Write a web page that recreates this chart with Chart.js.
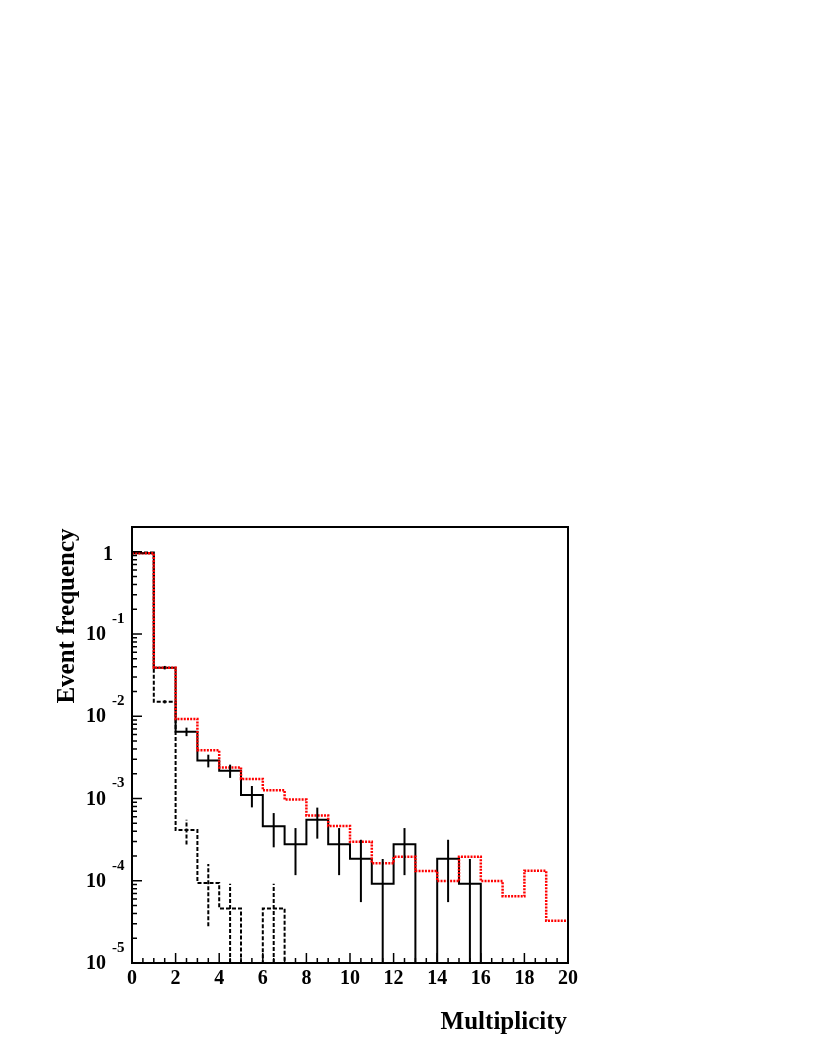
<!DOCTYPE html>
<html><head><meta charset="utf-8">
<script src="https://cdn.jsdelivr.net/npm/chart.js@4/dist/chart.umd.min.js"></script>
<style>html,body{margin:0;padding:0;background:#fff;}#c{position:absolute;left:0;top:0;}</style>
</head><body>
<canvas id="c" width="817" height="1058"></canvas>
<script>
// ---- data ----
const binEdges = [0,1,2,3,4,5,6,7,8,9,10,11,12,13,14,15,16,17,18,19,20];
// measured data (solid black, with error bars)
const dataValues = [0.957,0.039,0.0065,0.0029,0.00218,0.0011,4.6e-4,2.77e-4,5.5e-4,2.77e-4,1.85e-4,9.2e-5,2.77e-4,0,1.85e-4,9.2e-5,0,0,0,0];
const dataErrors = [0.0094,0.0019,0.00077,0.00051,0.0004,0.00032,2.05e-4,1.6e-4,2.25e-4,1.6e-4,1.3e-4,9.2e-5,1.6e-4,0,1.3e-4,9.2e-5,0,0,0,0];
// dashed black histogram (with error bars)
const bkgValues = [0.98,0.015,4.14e-4,9.4e-5,4.6e-5,0,4.6e-5,0,0,0,0,0,0,0,0,0,0,0,0,0];
const bkgErrors = [0.0067,6.8e-4,1.38e-4,6.6e-5,4.6e-5,0,4.6e-5,0,0,0,0,0,0,0,0,0,0,0,0,0];
// red dotted histogram
const simValues = [0.96,0.039,0.00925,0.00385,0.00239,0.00173,0.00126,9.7e-4,6.2e-4,4.63e-4,2.98e-4,1.63e-4,1.96e-4,1.31e-4,9.9e-5,1.96e-4,9.9e-5,6.5e-5,1.32e-4,3.27e-5];
const xTickLabels = ['0','2','4','6','8','10','12','14','16','18','20'];
const yTickExponents = [0,-1,-2,-3,-4,-5];
const xTitle = 'Multiplicity';
const yTitle = 'Event frequency';

const Y_MIN = 1e-5, Y_MAX = 2;
const FONT = '"Liberation Serif", "Times New Roman", serif';

function stepPoints(vals){
  const pts = [];
  vals.forEach((v,i)=>{
    const y = v > 0 ? v : Y_MIN;
    pts.push({x: binEdges[i], y}, {x: binEdges[i+1], y});
  });
  return pts;
}

function drawErr(chart, vals, errs, color, dash){
  const xs = chart.scales.x, ys = chart.scales.y, ctx = chart.ctx, a = chart.chartArea;
  ctx.save();
  ctx.beginPath(); ctx.rect(a.left, a.top, a.right-a.left, a.bottom-a.top); ctx.clip();
  ctx.strokeStyle = color; ctx.lineWidth = 2; ctx.setLineDash(dash);
  vals.forEach((v,i)=>{
    const e = errs[i];
    if (!(v > 0) || !(e > 0)) return;
    const cx = xs.getPixelForValue((binEdges[i]+binEdges[i+1])/2);
    const lo = (v - e) > Y_MIN ? ys.getPixelForValue(v - e) : a.bottom;
    const hi = ys.getPixelForValue(v + e);
    ctx.beginPath(); ctx.moveTo(cx, lo); ctx.lineTo(cx, hi); ctx.stroke();
  });
  ctx.restore();
}

const rootStyle = {
  id: 'rootStyle',
  afterDatasetsDraw(chart){
    drawErr(chart, bkgValues, bkgErrors, '#000', [4,2]);
    drawErr(chart, dataValues, dataErrors, '#000', []);
  },
  afterDraw(chart){
    const ctx = chart.ctx, a = chart.chartArea, xs = chart.scales.x, ys = chart.scales.y;
    ctx.save();
    ctx.strokeStyle = '#000'; ctx.setLineDash([]);
    // inward ticks on x
    ctx.lineWidth = 1.5;
    for (let k = 0; k <= 40; k++){
      const v = k*0.5;
      const px = xs.getPixelForValue(v);
      const len = (k % 4 === 0) ? 10 : 5;
      ctx.beginPath(); ctx.moveTo(px, a.bottom); ctx.lineTo(px, a.bottom - len); ctx.stroke();
    }
    // inward ticks on y
    for (let d = -5; d <= 0; d++){
      for (let m = 1; m <= 9; m++){
        const v = m*Math.pow(10,d);
        if (v > Y_MAX) continue;
        const py = ys.getPixelForValue(v);
        const len = (m === 1) ? 10 : 5;
        ctx.beginPath(); ctx.moveTo(a.left, py); ctx.lineTo(a.left + len, py); ctx.stroke();
      }
    }
    // frame
    ctx.lineWidth = 2;
    ctx.strokeRect(a.left, a.top, a.right - a.left, a.bottom - a.top);
    // y tick labels
    ctx.fillStyle = '#000';
    yTickExponents.forEach(e=>{
      const py = ys.getPixelForValue(Math.pow(10,e));
      ctx.textBaseline = 'middle';
      if (e === 0){
        ctx.font = 'bold 20px ' + FONT; ctx.textAlign = 'right';
        ctx.fillText('1', 113, py + 3);
      } else {
        ctx.font = 'bold 20px ' + FONT; ctx.textAlign = 'right';
        ctx.fillText('10', 106, py + 1);
        ctx.font = 'bold 15px ' + FONT; ctx.textAlign = 'left';
        ctx.fillText(String(e), 112, py - 15);
      }
    });
    // axis titles
    ctx.font = 'bold 25px ' + FONT;
    ctx.textAlign = 'right'; ctx.textBaseline = 'alphabetic';
    ctx.fillText(xTitle, 567, 1029);
    ctx.save();
    ctx.translate(74, 616); ctx.rotate(-Math.PI/2);
    ctx.textAlign = 'center';
    ctx.fillText(yTitle, 0, 0);
    ctx.restore();
    ctx.restore();
  }
};

new Chart(document.getElementById('c'), {
  type: 'line',
  data: {
    datasets: [
      { label: 'sim', data: stepPoints(simValues), borderColor: '#ff0000', borderWidth: 2.5, borderDash: [2,1.2], pointRadius: 0, fill: false, tension: 0 },
      { label: 'data', data: stepPoints(dataValues), borderColor: '#000', borderWidth: 2, pointRadius: 0, fill: false, tension: 0 },
      { label: 'bkg', data: stepPoints(bkgValues), borderColor: '#000', borderWidth: 2, borderDash: [4,2], pointRadius: 0, fill: false, tension: 0 }
    ]
  },
  options: {
    responsive: false, animation: false, devicePixelRatio: 1,
    layout: { padding: { left: 0, top: 527, right: 249, bottom: 0 } },
    plugins: { legend: { display: false }, tooltip: { enabled: false } },
    scales: {
      x: {
        type: 'linear', min: 0, max: 20,
        grid: { display: false, drawTicks: false },
        border: { display: false },
        ticks: {
          stepSize: 2, padding: 4, color: '#000', maxRotation: 0, autoSkip: false,
          font: { family: FONT, size: 20, weight: 'bold' },
          callback: (v) => xTickLabels[Math.round(v/2)] ?? ''
        },
        afterFit: (s) => { s.height = 95; }
      },
      y: {
        type: 'logarithmic', min: Y_MIN, max: Y_MAX,
        grid: { display: false, drawTicks: false },
        border: { display: false },
        ticks: { display: false },
        afterFit: (s) => { s.width = 132; }
      }
    }
  },
  plugins: [rootStyle]
});
</script>
</body></html>
